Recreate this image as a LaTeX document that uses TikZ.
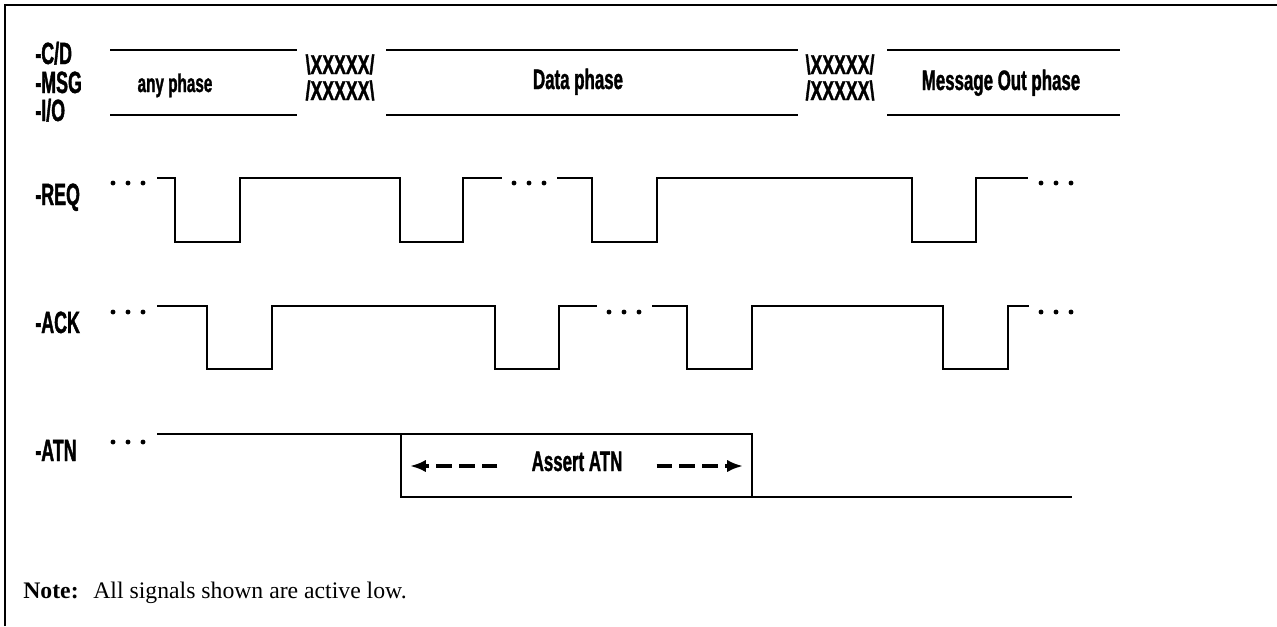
\documentclass[tikz,border=0pt]{standalone}
\usepackage{fontspec}
\setmainfont{Liberation Serif}
\newfontfamily\sigfont[FakeStretch=0.58, FakeBold=1.2]{Liberation Sans Bold}
\newfontfamily\phasefont[FakeStretch=0.6, FakeBold=1.2]{Liberation Sans Bold}
\newfontfamily\xxfont[FakeStretch=0.65, FakeBold=1.2]{Liberation Sans Bold}
\usetikzlibrary{positioning, arrows.meta}

\begin{document}
\begin{tikzpicture}[
        x=0.02cm, y=-0.02cm,
        sig/.style={line width=1.5pt},
        bus/.style={line width=1.7pt},
        frame/.style={line width=1.1pt},
        lbl/.style={anchor=base west, inner sep=0pt, font=\sigfont\fontsize{17.5}{17.5}\selectfont},
        phase/.style={anchor=base, inner sep=0pt, font=\phasefont\fontsize{16}{16}\selectfont},
        xx/.style={anchor=base, inner sep=0pt, font=\xxfont\fontsize{15.5}{15.5}\selectfont},
        note/.style={anchor=base west, inner sep=0pt, font=\fontsize{13.5}{13.5}\selectfont},
        atnarrow/.style={-{Latex[length=9pt,width=7pt]}, line width=2pt, dash pattern=on 9pt off 4pt, shorten <=0.68cm}
    ]

        \useasboundingbox (0,0) rectangle (1277,626);
        \draw[frame] (5,626) -- (5,5) -- (1277,5);

        % signal names
        \node[lbl] (cd) at (35,64) {-C/D};
        \node[lbl] (msg) at (35,93) {-MSG};
        \node[lbl] (io) at (35,121) {-I/O};
        \node[lbl] (req) at (35,205) {-REQ};
        \node[lbl] (ack) at (35,333) {-ACK};
        \node[lbl] (atn) at (35,461) {-ATN};

        % phase bus
        \foreach \xa/\xb in {110/297, 386/798, 887/1120} {
            \draw[bus] (\xa,50) -- (\xb,50);
            \draw[bus] (\xa,115) -- (\xb,115);
        }
        \node[phase, font=\phasefont\fontsize{14.5}{14.5}\selectfont] (anyph) at (175,92) {any phase};
        \node[phase] (dataph) at (578,89) {Data phase};
        \node[phase] (msgph) at (1001,90) {Message Out phase};
        \node[xx] (xatop) at (340,74) {\textbackslash XXXXX/};
        \node[xx] (xabot) at (340,100) {/XXXXX\textbackslash};
        \node[xx] (xbtop) at (840,74) {\textbackslash XXXXX/};
        \node[xx] (xbbot) at (840,100) {/XXXXX\textbackslash};

        % -REQ
        \draw[sig] (157,178) -- (175,178) -- (175,242) -- (240,242) -- (240,178) -- (400,178) -- (400,242) -- (463,242) -- (463,178) -- (502,178);
        \draw[sig] (557,178) -- (592,178) -- (592,242) -- (657,242) -- (657,178) -- (912,178) -- (912,242) -- (976,242) -- (976,178) -- (1028,178);

        % -ACK
        \draw[sig] (157,306) -- (207,306) -- (207,369) -- (272,369) -- (272,306) -- (495,306) -- (495,369) -- (559,369) -- (559,306) -- (597,306);
        \draw[sig] (652,306) -- (687,306) -- (687,369) -- (752,369) -- (752,306) -- (943,306) -- (943,369) -- (1008,369) -- (1008,306) -- (1029,306);

        % -ATN
        \draw[sig] (157,434) -- (752,434) -- (752,497);
        \draw[sig] (401,434) -- (401,497) -- (1072,497);
        \node[phase] (assert) at (577,471) {Assert ATN};
        \coordinate (lwall) at (410,466);
        \coordinate (rwall) at (743,466);
        \draw[atnarrow] (assert.west |- lwall) -- (lwall);
        \draw[atnarrow] (assert.east |- rwall) -- (rwall);

        % continuation dots
        \foreach \px/\py in {113/183, 514/183, 1041/183, 113/312, 609/312, 1041/312, 113/442}
            \foreach \dx in {0,15,30}
                \fill (\px+\dx,\py) circle (1.4pt);

        \node[note, font=\fontsize{13.5}{13.5}\selectfont\bfseries] (notehead) at (23,598) {Note:};
        \node[note] (notetext) at (93,598) {All signals shown are active low.};

    \end{tikzpicture}
\end{document}
